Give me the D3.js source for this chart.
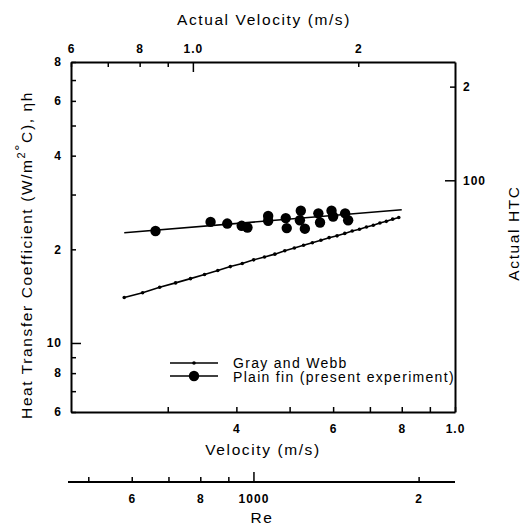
<!DOCTYPE html>
<html>
<head>
<meta charset="utf-8">
<script src="https://cdn.jsdelivr.net/npm/d3@7"></script>
<style>
  body { margin: 0; background: #fff; }
  svg { font-family: "Liberation Sans", Arial, sans-serif; }
  .tick text { font-size: 12px; font-weight: bold; fill: #000; letter-spacing: 1px; }
  .title { font-size: 15.5px; fill: #000; letter-spacing: 1.6px; }
  .legend { font-size: 14px; fill: #000; letter-spacing: 1.3px; }
</style>
</head>
<body>
<svg id="chart" width="525" height="527"></svg>
<script>
// Gray and Webb correlation (velocity m/s, HTC W/m2C)
var grayV = [0.25, 0.27, 0.29, 0.31, 0.33, 0.35, 0.37, 0.39, 0.41, 0.43, 0.45, 0.47, 0.49, 0.51,
             0.53, 0.55, 0.57, 0.59, 0.61, 0.63, 0.65, 0.67, 0.69, 0.71, 0.73, 0.75, 0.77, 0.79];
var grayH = [14.0, 14.5, 15.1, 15.6, 16.1, 16.6, 17.1, 17.6, 18.0, 18.5, 18.9, 19.3, 19.8, 20.2,
             20.6, 21.0, 21.4, 21.8, 22.1, 22.5, 22.9, 23.2, 23.6, 23.9, 24.3, 24.6, 25.0, 25.3];

// plain fin measurements
var finV = [0.285, 0.359, 0.385, 0.409, 0.419, 0.457, 0.457, 0.492, 0.494, 0.524, 0.522, 0.533,
            0.564, 0.568, 0.596, 0.600, 0.631, 0.639];
var finH = [22.9, 24.5, 24.2, 23.8, 23.5, 25.6, 24.7, 25.2, 23.4, 26.6, 24.8, 23.3,
            26.1, 24.4, 26.6, 25.5, 26.1, 24.8];
// fitted line through plain fin data
var finFitV = [0.25, 0.80];
var finFitH = [22.6, 26.8];

// ticks
var velTicks = [0.3, 0.4, 0.5, 0.6, 0.7, 0.8, 0.9, 1.0];
var velLabels = {0.4: "4", 0.6: "6", 0.8: "8", 1.0: "1.0"};
var actVelTicks = [0.6, 0.7, 0.8, 0.9, 1.0, 2.0];
var actVelLabels = {0.6: "6", 0.8: "8", 1.0: "1.0", 2.0: "2"};
var htcTicks = [6, 7, 8, 9, 10, 20, 30, 40, 50, 60, 70, 80];
var htcLabels = {6: "6", 8: "8", 10: "10", 20: "2", 40: "4", 60: "6", 80: "8"};
var actHtcTicks = [100, 200];
var actHtcLabels = {100: "100", 200: "2"};
var reTicks = [500, 600, 700, 800, 900, 1000, 2000];
var reLabels = {600: "6", 800: "8", 1000: "1000", 2000: "2"};

var svg = d3.select("#chart");
var pLeft = 71, pRight = 455, pTop = 62, pBottom = 412;

var x = d3.scaleLog().domain([0.2, 1.0]).range([pLeft, pRight]);
var xTop = d3.scaleLog().domain([0.6, 3.0]).range([pLeft, pRight]);
var y = d3.scaleLog().domain([6, 80]).range([pBottom, pTop]);
var yRight = d3.scaleLog().domain([18, 240]).range([pBottom, pTop]);
var re = d3.scaleLog().domain([465, 2330]).range([pLeft, pRight]);

function fmt(labels) {
    return function(d) { return labels[d] || ""; };
}

// make some ticks a bit longer, like the original
function styleAxis(g, longVals, sign) {
    g.select(".domain").attr("stroke-width", 2);
    g.selectAll(".tick line").attr("stroke-width", 1.5);
    g.selectAll(".tick").filter(function(d) { return longVals.indexOf(d) >= 0; })
        .select("line").each(function() {
            var l = d3.select(this);
            if (l.attr("x2") != null && +l.attr("x2") !== 0) l.attr("x2", sign * 10);
            else l.attr("y2", sign * 10);
        });
}

var gBottom = svg.append("g").attr("transform", "translate(0," + pBottom + ")")
    .call(d3.axisBottom(x).tickValues(velTicks).tickFormat(fmt(velLabels))
        .tickSizeInner(-5).tickSizeOuter(0).tickPadding(12));
styleAxis(gBottom, [], -1);

var gTop = svg.append("g").attr("transform", "translate(0," + pTop + ")")
    .call(d3.axisTop(xTop).tickValues(actVelTicks).tickFormat(fmt(actVelLabels))
        .tickSizeInner(-5).tickSizeOuter(0).tickPadding(9));
styleAxis(gTop, [1.0], 1);

var gLeft = svg.append("g").attr("transform", "translate(" + pLeft + ",0)")
    .call(d3.axisLeft(y).tickValues(htcTicks).tickFormat(fmt(htcLabels))
        .tickSizeInner(-5).tickSizeOuter(0).tickPadding(9));
styleAxis(gLeft, [10], 1);

var gRight = svg.append("g").attr("transform", "translate(" + pRight + ",0)")
    .call(d3.axisRight(yRight).tickValues(actHtcTicks).tickFormat(fmt(actHtcLabels))
        .tickSizeInner(-5).tickSizeOuter(0).tickPadding(8));
styleAxis(gRight, [100], -1);

var gRe = svg.append("g").attr("transform", "translate(0,482)")
    .call(d3.axisBottom(re).tickValues(reTicks).tickFormat(fmt(reLabels))
        .tickSizeInner(-5).tickSizeOuter(0).tickPadding(12));
styleAxis(gRe, [1000], -1);
gRe.select(".domain").attr("d", "M68,0H" + pRight);

svg.selectAll(".domain").attr("stroke", "#000");

// titles
svg.append("text").attr("class", "title").attr("x", 264).attr("y", 25)
    .attr("text-anchor", "middle").text("Actual Velocity (m/s)");
svg.append("text").attr("class", "title").attr("x", 263).attr("y", 455)
    .attr("text-anchor", "middle").text("Velocity (m/s)");
svg.append("text").attr("class", "title").attr("x", 262).attr("y", 523)
    .attr("text-anchor", "middle").text("Re");
svg.append("text").attr("class", "title")
    .attr("transform", "translate(519,233) rotate(-90)")
    .attr("text-anchor", "middle").text("Actual HTC");

var yt = svg.append("text").attr("class", "title")
    .attr("transform", "translate(32,255) rotate(-90)")
    .attr("text-anchor", "middle");
yt.append("tspan").text("Heat Transfer Coefficient (W/m");
yt.append("tspan").attr("dy", -7).style("font-size", "11px").text("2");
yt.append("tspan").attr("dy", 0).text("°");
yt.append("tspan").attr("dy", 7).text("C), ηh");

// lines
var line = d3.line().x(function(d) { return x(d[0]); }).y(function(d) { return y(d[1]); });
var grayData = grayV.map(function(v, i) { return [v, grayH[i]]; });
var fitData = finFitV.map(function(v, i) { return [v, finFitH[i]]; });

svg.append("path").datum(grayData).attr("d", line)
    .attr("fill", "none").attr("stroke", "#000").attr("stroke-width", 1.6);
svg.selectAll(".gdot").data(grayData).enter().append("circle")
    .attr("cx", function(d) { return x(d[0]); })
    .attr("cy", function(d) { return y(d[1]); })
    .attr("r", 1.8).attr("fill", "#000");

svg.append("path").datum(fitData).attr("d", line)
    .attr("fill", "none").attr("stroke", "#000").attr("stroke-width", 1.6);
svg.selectAll(".fdot").data(finV).enter().append("circle")
    .attr("cx", function(d) { return x(d); })
    .attr("cy", function(d, i) { return y(finH[i]); })
    .attr("r", 5.2).attr("fill", "#000");

// legend
var lg = svg.append("g");
lg.append("line").attr("x1", 170).attr("x2", 218).attr("y1", 363).attr("y2", 363)
    .attr("stroke", "#000").attr("stroke-width", 1.6);
lg.append("circle").attr("cx", 194).attr("cy", 363).attr("r", 1.8).attr("fill", "#000");
lg.append("text").attr("class", "legend").attr("x", 233).attr("y", 368)
    .text("Gray and Webb");
lg.append("line").attr("x1", 170).attr("x2", 218).attr("y1", 376).attr("y2", 376)
    .attr("stroke", "#000").attr("stroke-width", 1.6);
lg.append("circle").attr("cx", 194).attr("cy", 376).attr("r", 5.2).attr("fill", "#000");
lg.append("text").attr("class", "legend").attr("x", 233).attr("y", 382)
    .text("Plain fin (present experiment)");
</script>
</body>
</html>
